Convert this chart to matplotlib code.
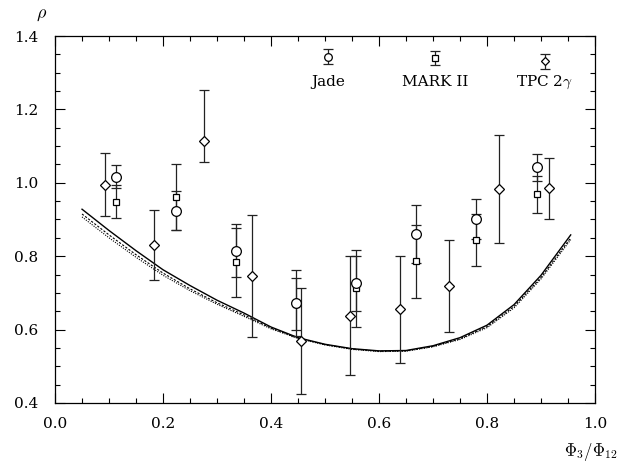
import numpy as np
import matplotlib
matplotlib.use("Agg")
import matplotlib.pyplot as plt
from matplotlib.ticker import MultipleLocator

plt.rcParams['font.family'] = ['DejaVu Serif']
plt.rcParams['mathtext.fontset'] = 'cm'

# Jade (circles)
jade_x = [0.112, 0.224, 0.335, 0.446, 0.557, 0.668, 0.780, 0.892]
jade_y = [1.017, 0.924, 0.815, 0.673, 0.726, 0.861, 0.902, 1.042]
jade_err = [0.032, 0.054, 0.072, 0.090, 0.074, 0.079, 0.054, 0.036]

# MARK II (squares)
mark_x = [0.112, 0.224, 0.335, 0.446, 0.557, 0.668, 0.780, 0.892]
mark_y = [0.949, 0.961, 0.784, 0.670, 0.713, 0.786, 0.843, 0.969]
mark_err = [0.044, 0.090, 0.094, 0.070, 0.105, 0.100, 0.071, 0.050]

# TPC 2gamma (diamonds), lower / upper errors
tpc_x = [0.093, 0.183, 0.275, 0.365, 0.455, 0.546, 0.639, 0.730, 0.822, 0.915]
tpc_y = [0.995, 0.831, 1.115, 0.747, 0.569, 0.638, 0.655, 0.719, 0.983, 0.985]
tpc_lo = [0.085, 0.095, 0.058, 0.166, 0.145, 0.163, 0.145, 0.125, 0.146, 0.083]
tpc_hi = [0.085, 0.095, 0.137, 0.166, 0.145, 0.163, 0.145, 0.125, 0.146, 0.083]

# model curves
curve_x = [0.05, 0.10, 0.15, 0.20, 0.25, 0.30, 0.35, 0.40, 0.45, 0.50,
           0.55, 0.60, 0.65, 0.70, 0.75, 0.80, 0.85, 0.90, 0.955]
curve_solid = [0.928, 0.870, 0.815, 0.763, 0.720, 0.680, 0.645, 0.607, 0.578, 0.560,
               0.548, 0.542, 0.543, 0.556, 0.578, 0.612, 0.668, 0.748, 0.858]
curve_dash = [0.915, 0.858, 0.804, 0.754, 0.711, 0.673, 0.640, 0.604, 0.577, 0.559,
              0.547, 0.541, 0.542, 0.554, 0.575, 0.608, 0.663, 0.742, 0.850]
curve_dot = [0.907, 0.850, 0.797, 0.748, 0.706, 0.669, 0.636, 0.602, 0.576, 0.558,
             0.546, 0.540, 0.541, 0.553, 0.573, 0.605, 0.659, 0.738, 0.845]

# key entries drawn inside the frame
key_x = [0.506, 0.704, 0.907]
key_y = [1.344, 1.340, 1.331]
key_labels = ['Jade', 'MARK II', 'TPC 2$\\gamma$']
key_markers = ['o', 's', 'D']
key_sizes = [6.5, 5.5, 5.5]

fig = plt.figure(figsize=(6.26, 4.70), dpi=100)
ax = fig.add_axes([0.0879, 0.1426, 0.8626, 0.7808])

ax.plot(curve_x, curve_solid, color='black', lw=1.0)
ax.plot(curve_x, curve_dash, color='black', lw=0.8, ls=(0, (2, 1.5)))
ax.plot(curve_x, curve_dot, color='black', lw=0.8, ls=(0, (1, 1.2)))

eb = dict(color='black', ecolor='#222222', elinewidth=0.9, capsize=3.5,
          capthick=0.9, mfc='white', mec='black', mew=0.9, ls='none')
ax.errorbar(tpc_x, tpc_y, yerr=[tpc_lo, tpc_hi], marker='D', ms=5.5, **eb)
ax.errorbar(mark_x, mark_y, yerr=mark_err, marker='s', ms=5, **eb)
ax.errorbar(jade_x, jade_y, yerr=jade_err, marker='o', ms=7, **eb)

for kx, ky, lab, m, s in zip(key_x, key_y, key_labels, key_markers, key_sizes):
    ax.errorbar([kx], [ky], yerr=[0.02], marker=m, ms=s - 1, **eb)
    ax.text(kx, 1.275, lab, ha='center', va='center', fontsize=11)

ax.set_xlim(0.0, 1.0)
ax.set_ylim(0.4, 1.4)
ax.xaxis.set_major_locator(MultipleLocator(0.2))
ax.xaxis.set_minor_locator(MultipleLocator(0.05))
ax.yaxis.set_major_locator(MultipleLocator(0.2))
ax.yaxis.set_minor_locator(MultipleLocator(0.05))
ax.xaxis.set_major_formatter(matplotlib.ticker.FormatStrFormatter('%.1f'))
ax.yaxis.set_major_formatter(matplotlib.ticker.FormatStrFormatter('%.1f'))
ax.tick_params(which='both', direction='in', top=True, right=True, width=0.8)
ax.tick_params(which='major', length=7, labelsize=11)
ax.tick_params(which='minor', length=3.5)
ax.tick_params(axis='x', which='major', pad=10)
ax.tick_params(axis='y', which='major', pad=12)
for sp in ax.spines.values():
    sp.set_linewidth(0.9)

fig.text(42 / 626, 1 - 14 / 470, '$\\rho$', ha='center', va='center', fontsize=13)
fig.text(591 / 626, 1 - 452 / 470, '$\\Phi_3/\\Phi_{12}$', ha='center', va='center', fontsize=12)

fig.savefig('out.png', dpi=100)
